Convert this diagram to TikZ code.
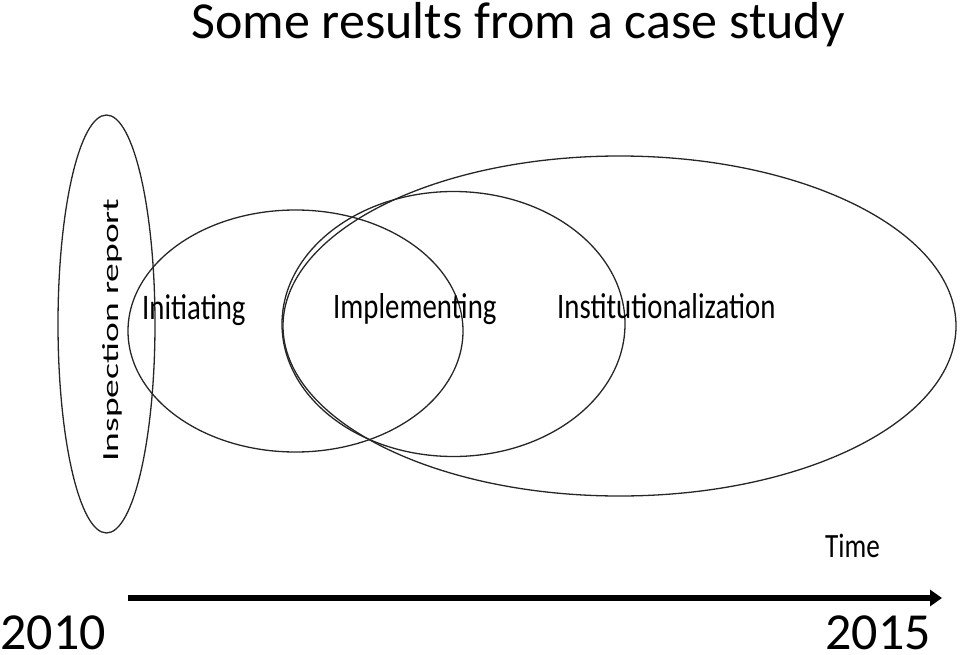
\documentclass[tikz,border=0pt]{standalone}
\usepackage{fontspec}
\setmainfont{Carlito}
\usetikzlibrary{arrows.meta}
\newcommand\narrowtxt[1]{\scalebox{.8}[1]{#1}}
\begin{document}
\begin{tikzpicture}[x=1pt,y=-1pt,
  ring/.style={line width=1.3pt,black!85},
  phase/.style={inner sep=0pt,anchor=base west,font=\fontsize{36}{36}\selectfont},
  year/.style={inner sep=0pt,anchor=base,font=\fontsize{52}{52}\selectfont}]
  \useasboundingbox (0,0) rectangle (960,655);
  \node[year] (title) at (518,39) {Some results from a case study};
  % the four phases
  \draw[ring] (106.5,324) ellipse [x radius=48.5,y radius=209];
  \draw[ring] (295.5,331) ellipse [x radius=167.5,y radius=121];
  \draw[ring] (453.5,324) ellipse [x radius=171.5,y radius=132.5];
  \draw[ring] (619.5,326) ellipse [x radius=336.5,y radius=170];
  \node[inner sep=0pt,anchor=base,rotate=90,font=\fontsize{23}{23}\selectfont] (insp) at (118,330)
    {\scalebox{1.63}[1]{Inspection report}};
  \node[phase] (init) at (142,319) {\narrowtxt{Initiating}};
  \node[phase] (impl) at (333,318) {\narrowtxt{Implementing}};
  \node[phase] (inst) at (557,318) {\narrowtxt{Institutionalization}};
  % time axis
  \node[phase,font=\fontsize{34}{34}\selectfont] (time) at (825,557) {\narrowtxt{Time}};
  \coordinate (tstart) at (128,598);
  \coordinate (tend) at (942,598);
  \draw[line width=6pt,-{Triangle[length=12pt,width=16pt]}] (tstart) -- (tend);
  \node[year] (y0) at (53,649) {2010};
  \node[year] (y1) at (878,649) {2015};
\end{tikzpicture}
\end{document}
